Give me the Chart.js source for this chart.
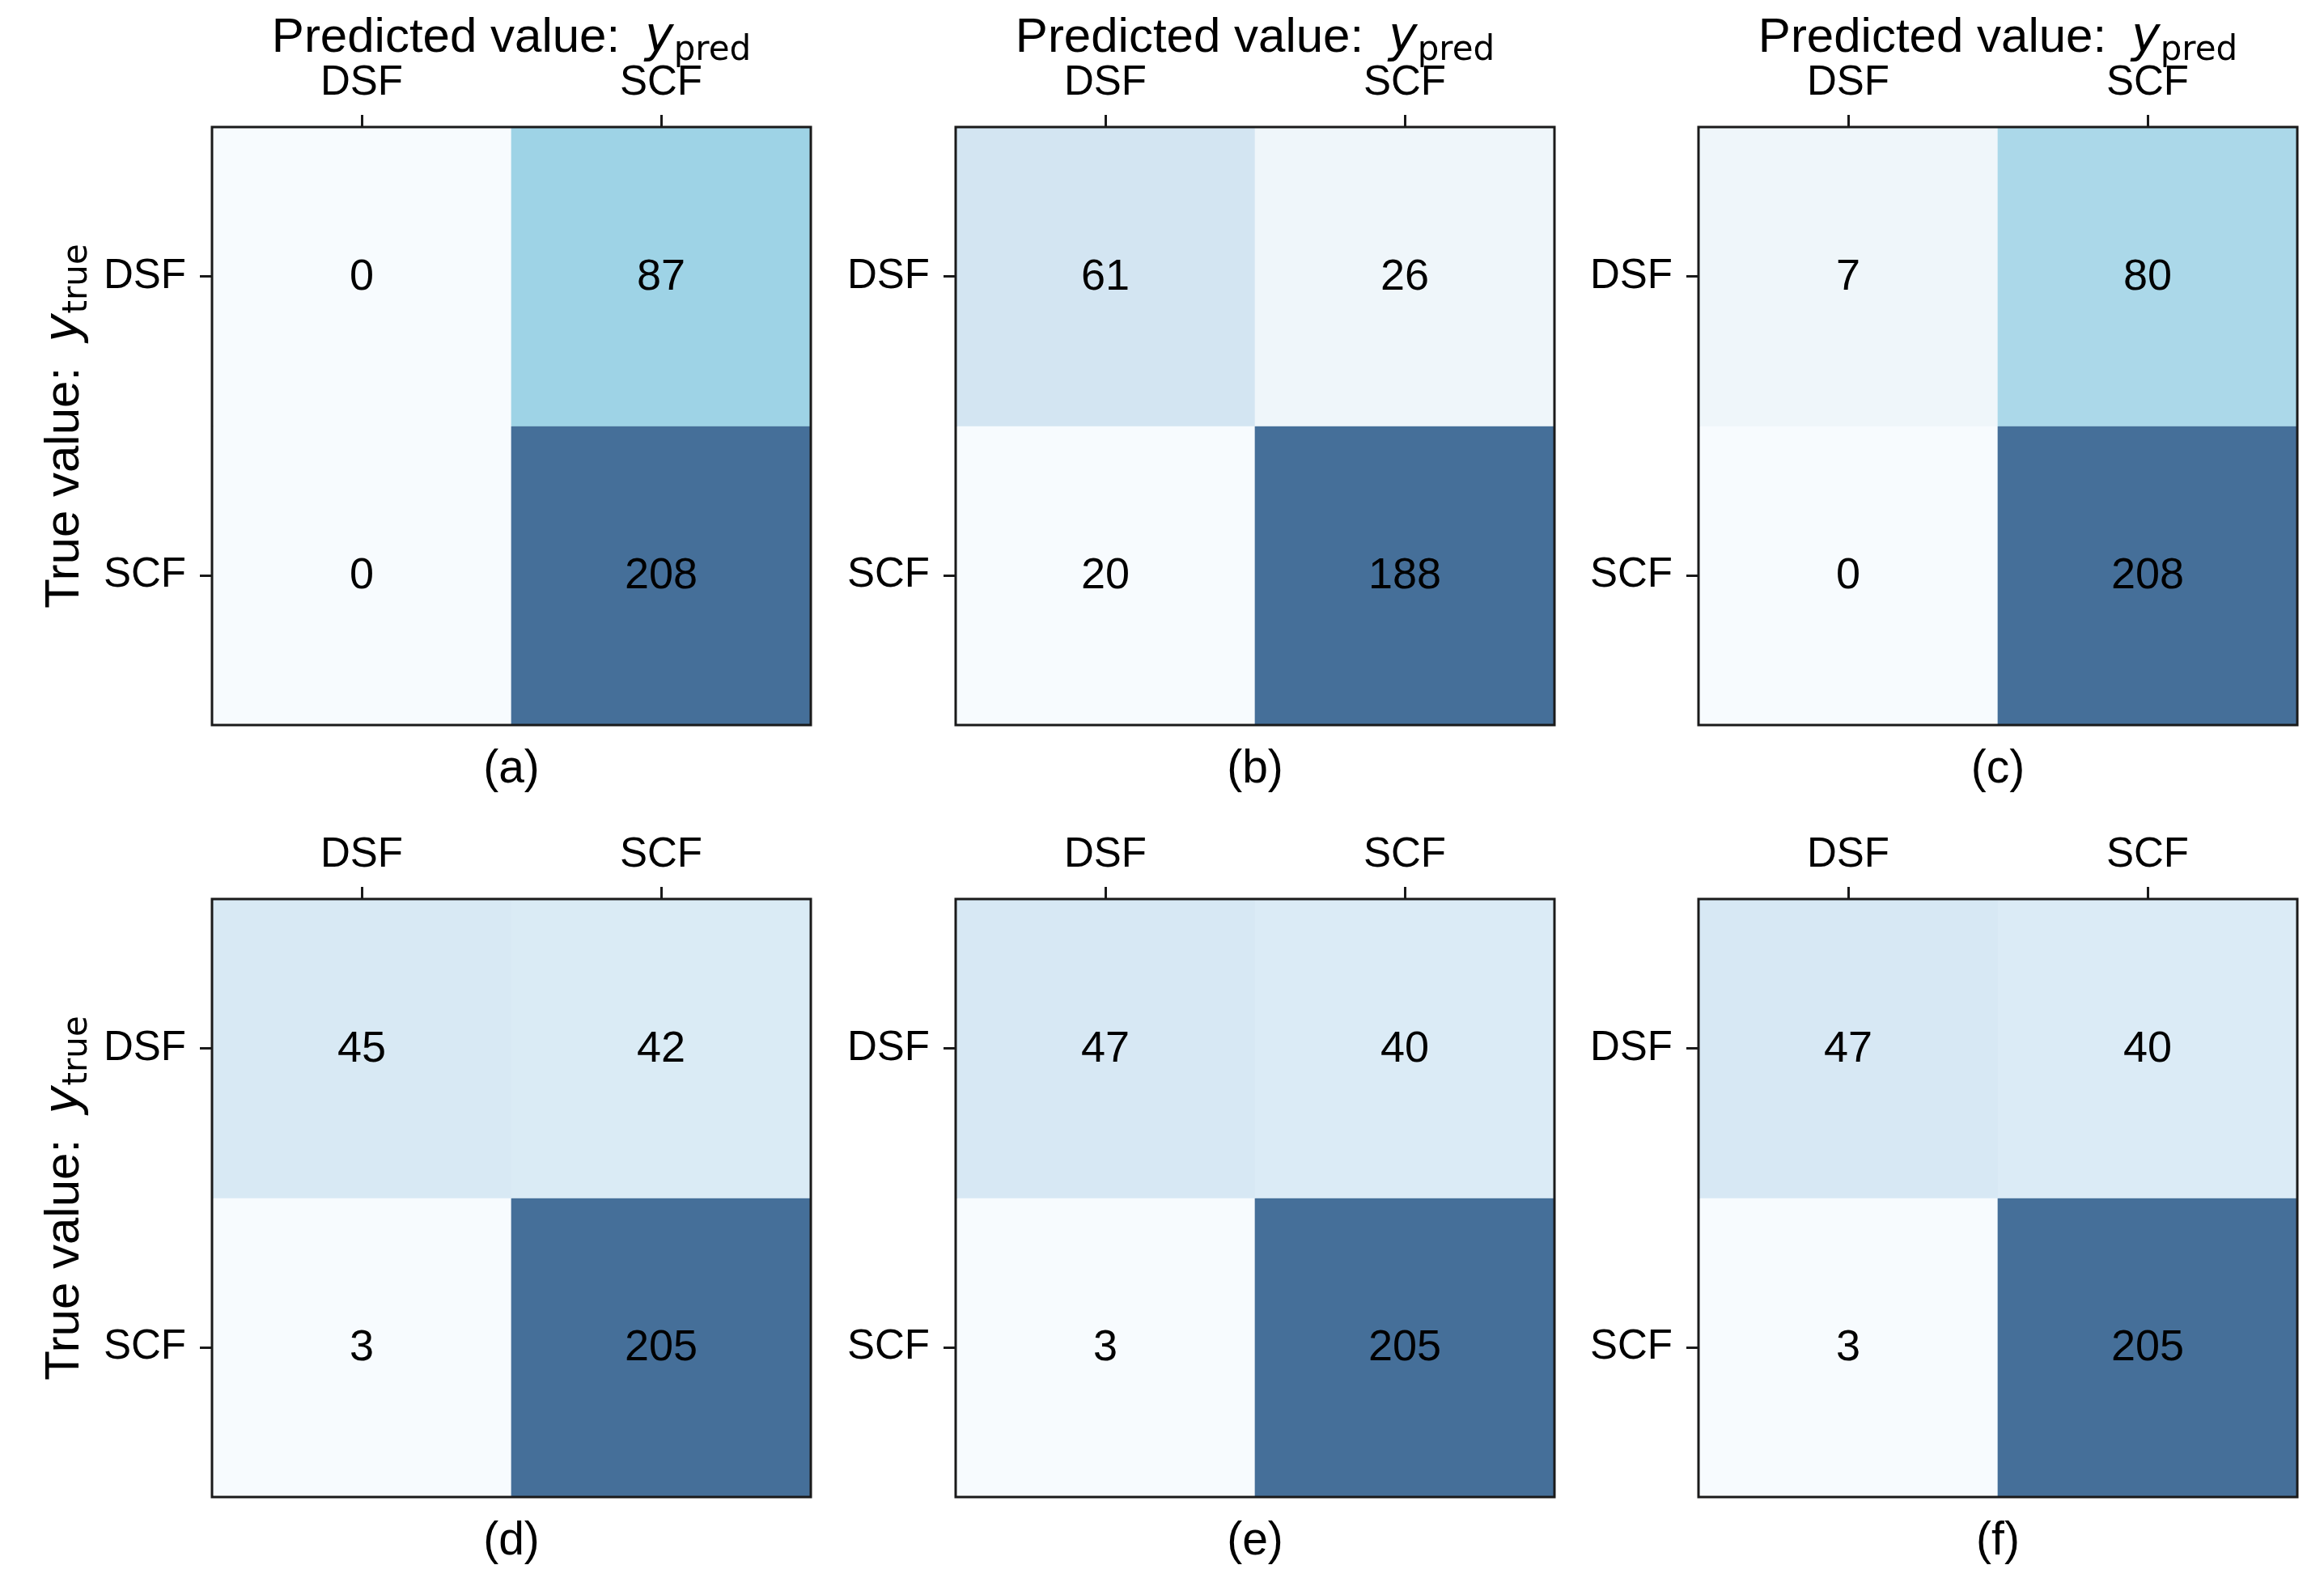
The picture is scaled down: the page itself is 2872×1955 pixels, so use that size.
<!DOCTYPE html>
<html>
<head>
<meta charset="utf-8">
<script src="https://cdn.jsdelivr.net/npm/chart.js@4.4.1/dist/chart.umd.min.js"></script>
<style>
  html, body { margin: 0; padding: 0; background: #fff; }
  body { width: 2872px; height: 1955px; position: relative; overflow: hidden; }
  canvas { position: absolute; }
</style>
</head>
<body>
<canvas id="cmA"></canvas>
<canvas id="cmB"></canvas>
<canvas id="cmC"></canvas>
<canvas id="cmD"></canvas>
<canvas id="cmE"></canvas>
<canvas id="cmF"></canvas>
<script>
// labels
const predLabels = ["DSF", "SCF"];
const trueLabels = ["DSF", "SCF"];
const panelLabels = ["(a)", "(b)", "(c)", "(d)", "(e)", "(f)"];
const predTitle = "Predicted value:";
const trueTitle = "True value:";

// confusion matrices, rows = true, cols = predicted
const cmA = [[0, 87], [0, 208]];
const cmB = [[61, 26], [20, 188]];
const cmC = [[7, 80], [0, 208]];
const cmD = [[45, 42], [3, 205]];
const cmE = [[47, 40], [3, 205]];
const cmF = [[47, 40], [3, 205]];

const matrices = [cmA, cmB, cmC, cmD, cmE, cmF];
const canvasIds = ["cmA", "cmB", "cmC", "cmD", "cmE", "cmF"];

// layout of the grid of panels
const colLeft = [0, 919, 1837];
const rowTop = [0, 954];
const CW = 1010, CH = 990;

const TXT = '"Liberation Sans", Arial, sans-serif';
const MATH = '"DejaVu Sans", sans-serif';

// colour ramp (light -> cyan-blue -> dark steel blue)
const stops = [
  [0, [247, 251, 254]],
  [0.035, [239, 246, 250]],
  [0.2, [217, 234, 245]],
  [0.245, [211, 229, 242]],
  [0.385, [171, 216, 233]],
  [0.418, [158, 211, 230]],
  [1, [69, 111, 153]]
];
function cmap(t) {
  t = Math.max(0, Math.min(1, t));
  for (let i = 1; i < stops.length; i++) {
    if (t <= stops[i][0]) {
      const [t0, c0] = stops[i - 1], [t1, c1] = stops[i];
      const f = (t - t0) / (t1 - t0);
      const c = c0.map((v, k) => Math.round(v + (c1[k] - v) * f));
      return `rgb(${c[0]},${c[1]},${c[2]})`;
    }
  }
  return "rgb(69,111,153)";
}

function drawMathLabel(ctx, x, y, text, sub) {
  const fMain = `60px ${TXT}`, fMath = `italic 60px ${MATH}`, fSub = `42px ${MATH}`;
  const gap = 31;
  ctx.font = fMain; const w1 = ctx.measureText(text).width;
  ctx.font = fMath; const w2 = ctx.measureText("y").width;
  ctx.font = fSub; const w3 = ctx.measureText(sub).width;
  let cx = x - (w1 + gap + w2 + w3) / 2;
  ctx.textAlign = "left";
  ctx.textBaseline = "alphabetic";
  ctx.font = fMain; ctx.fillText(text, cx, y); cx += w1 + gap;
  ctx.font = fMath; ctx.fillText("y", cx, y); cx += w2;
  ctx.font = fSub; ctx.fillText(sub, cx, y + 10);
}

const confPlugin = {
  id: "conf",
  afterDatasetsDraw(chart, args, opts) {
    const ctx = chart.ctx;
    const a = chart.chartArea;
    ctx.save();
    // cell values
    ctx.fillStyle = "#000";
    ctx.font = `54px ${TXT}`;
    ctx.textAlign = "center";
    ctx.textBaseline = "middle";
    chart.data.datasets.forEach((ds, i) => {
      chart.getDatasetMeta(i).data.forEach((bar, j) => {
        const p = bar.getProps(["x", "y", "base"], true);
        ctx.fillText(String(ds.data[j].v), p.x, (p.y + p.base) / 2 + 1);
      });
    });
    // frame
    ctx.strokeStyle = "#1a1a1a";
    ctx.lineWidth = 3;
    ctx.strokeRect(a.left, a.top, a.right - a.left, a.bottom - a.top);
    const cx = (a.left + a.right) / 2;
    // titles
    if (opts.topTitle) drawMathLabel(ctx, cx, a.top - 93, predTitle, "pred");
    if (opts.sideTitle) {
      ctx.save();
      ctx.translate(a.left - 165, (a.top + a.bottom) / 2);
      ctx.rotate(-Math.PI / 2);
      drawMathLabel(ctx, 0, 0, trueTitle, "true");
      ctx.restore();
    }
    // panel caption
    ctx.font = `57px ${TXT}`;
    ctx.textAlign = "center";
    ctx.textBaseline = "middle";
    ctx.fillText(opts.caption, cx, a.bottom + 55);
    ctx.restore();
  }
};

matrices.forEach((cm, idx) => {
  const row = Math.floor(idx / 3), col = idx % 3;
  const el = document.getElementById(canvasIds[idx]);
  el.width = CW; el.height = CH;
  el.style.width = CW + "px"; el.style.height = CH + "px";
  el.style.left = colLeft[col] + "px";
  el.style.top = rowTop[row] + "px";

  const flat = cm.flat();
  const vmin = Math.min(...flat), vmax = Math.max(...flat);

  const datasets = trueLabels.map((t, r) => ({
    label: t,
    data: predLabels.map((p, c) => ({ x: p, y: [r, r + 1], v: cm[r][c] })),
    backgroundColor: ctx => cmap((ctx.raw.v - vmin) / (vmax - vmin)),
    borderWidth: 0,
    barPercentage: 1,
    categoryPercentage: 1,
    grouped: false
  }));

  new Chart(el, {
    type: "bar",
    data: { labels: predLabels, datasets },
    plugins: [confPlugin],
    options: {
      responsive: false,
      animation: false,
      devicePixelRatio: 1,
      layout: { padding: { top: 0, left: 0, right: 8, bottom: 94 } },
      plugins: {
        legend: { display: false },
        tooltip: { enabled: false },
        conf: { topTitle: row === 0, sideTitle: col === 0, caption: panelLabels[idx] }
      },
      scales: {
        x: {
          type: "category",
          position: "top",
          offset: true,
          grid: { offset: false, drawOnChartArea: false, drawTicks: true, tickLength: 15, tickWidth: 3, tickColor: "#1a1a1a" },
          border: { display: true, width: 3, color: "#1a1a1a" },
          ticks: { color: "#000", font: { family: TXT, size: 51 }, padding: 8, maxRotation: 0 },
          afterFit: s => { s.height = 157; }
        },
        y: {
          type: "linear",
          min: 0,
          max: 2,
          reverse: true,
          afterBuildTicks: s => { s.ticks = trueLabels.map((t, i) => ({ value: i + 0.5 })); },
          grid: { drawOnChartArea: false, drawTicks: true, tickLength: 15, tickWidth: 3, tickColor: "#1a1a1a" },
          border: { display: true, width: 3, color: "#1a1a1a" },
          ticks: { color: "#000", font: { family: TXT, size: 51 }, padding: 17, callback: v => trueLabels[Math.floor(v)] },
          afterFit: s => { s.width = 262; }
        }
      }
    }
  });
});
</script>
</body>
</html>
